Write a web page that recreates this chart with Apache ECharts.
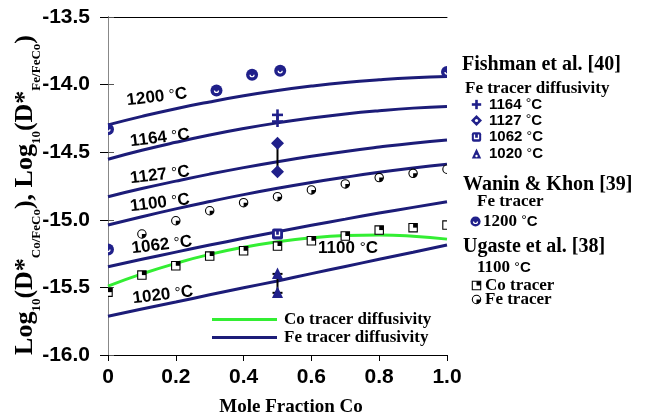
<!DOCTYPE html>
<html><head><meta charset="utf-8">
<script src="https://cdn.jsdelivr.net/npm/echarts@6/dist/echarts.min.js"></script>
<style>html,body{margin:0;padding:0;background:#fff}#c{width:646px;height:417px}</style>
</head><body><div id="c"></div>
<script>
// ---------------- data ----------------
const xGrid = [0, 0.1, 0.2, 0.3, 0.4, 0.5, 0.6, 0.7, 0.8, 0.9, 1.0];
const fe1200 = [-14.298, -14.235, -14.178, -14.128, -14.083, -14.044, -14.011, -13.984, -13.964, -13.949, -13.940];
const fe1164 = [-14.552, -14.486, -14.427, -14.373, -14.325, -14.283, -14.247, -14.217, -14.193, -14.174, -14.162];
const fe1127 = [-14.829, -14.769, -14.714, -14.662, -14.614, -14.570, -14.530, -14.494, -14.462, -14.433, -14.409];
const fe1100 = [-15.039, -14.977, -14.919, -14.865, -14.814, -14.767, -14.724, -14.685, -14.649, -14.617, -14.589];
const fe1062 = [-15.347, -15.292, -15.239, -15.187, -15.137, -15.088, -15.041, -14.995, -14.950, -14.908, -14.866];
const fe1020 = [-15.713, -15.660, -15.608, -15.555, -15.503, -15.452, -15.398, -15.345, -15.292, -15.240, -15.187];
const co1100 = [-15.490, -15.400, -15.322, -15.256, -15.203, -15.162, -15.133, -15.117, -15.113, -15.122, -15.143];

const waninX = [0, 0.32, 0.425, 0.508, 1.0, 0];
const waninY = [-14.33, -14.043, -13.927, -13.898, -13.907, -15.22];

const fishX = 0.5;
const fish1164 = [-14.224, -14.273];
const fish1127 = [-14.433, -14.644];
const fish1062 = [-15.105];
const fish1020 = [-15.40, -15.54];

const ugasteX = [0, 0.1, 0.2, 0.3, 0.4, 0.5, 0.6, 0.7, 0.8, 0.9, 1.0];
const ugasteCo = [-15.535, -15.409, -15.340, -15.268, -15.229, -15.194, -15.155, -15.120, -15.076, -15.058, -15.039];
const ugasteFe = [null, -15.105, -15.007, -14.933, -14.873, -14.829, -14.779, -14.735, -14.688, -14.656, -14.626];

const yTicks = [-16.0, -15.5, -15.0, -14.5, -14.0, -13.5];
const xTicks = [0, 0.2, 0.4, 0.6, 0.8, 1.0];
const curveLabels = ['1200', '1164', '1127', '1100', '1062', '1020'];

// ---------------- styles ----------------
const NAVY = '#1c1c78';
const MNAVY = '#20208a';
const GREEN = '#33ee33';
const SANS = '"Liberation Sans", Arial, Helvetica, sans-serif';
const SERIF = '"Liberation Serif", "Times New Roman", serif';

function markerShapes(kind, cx, cy, legend) {
  const k = legend ? 0.85 : 1;
  switch (kind) {
    case 'plus': {
      const s = 11 * k, t = 2.6;
      return [
        {type: 'rect', shape: {x: cx - s / 2, y: cy - t / 2, width: s, height: t}, style: {fill: MNAVY}},
        {type: 'rect', shape: {x: cx - t / 2, y: cy - s / 2, width: t, height: s}, style: {fill: MNAVY}}
      ];
    }
    case 'diamond': {
      const r = 6.5 * k;
      const arr = [{type: 'polygon', shape: {points: [[cx, cy - r], [cx + r, cy], [cx, cy + r], [cx - r, cy]]}, style: {fill: MNAVY}}];
      if (legend) arr.push({type: 'circle', shape: {cx: cx, cy: cy, r: 1.6}, style: {fill: '#fff'}});
      return arr;
    }
    case 'square': {
      const h = 5.5 * k;
      return [
        {type: 'rect', shape: {x: cx - h, y: cy - h, width: 2 * h, height: 2 * h, r: 2}, style: {fill: MNAVY}},
        {type: 'polyline', shape: {points: [[cx - 2, cy - 2.5], [cx - 2, cy + 1.5], [cx + 2, cy + 1.5], [cx + 2, cy - 2.5]]}, style: {stroke: '#fff', lineWidth: 1.3, fill: null}}
      ];
    }
    case 'triangle': {
      const a = 6.5 * k;
      const arr = [{type: 'polygon', shape: {points: [[cx, cy - a], [cx + a * 0.85, cy + a * 0.8], [cx - a * 0.85, cy + a * 0.8]]}, style: {fill: MNAVY}}];
      if (legend) arr.push({type: 'circle', shape: {cx: cx, cy: cy + 2, r: 1.2}, style: {fill: '#fff'}});
      return arr;
    }
    case 'wanin': {
      const r = 6 * k;
      return [
        {type: 'circle', shape: {cx: cx, cy: cy, r: r}, style: {fill: MNAVY}},
        {type: 'arc', shape: {cx: cx, cy: cy, r: 2, startAngle: 0, endAngle: Math.PI}, style: {stroke: '#fff', lineWidth: 1.2, fill: null}}
      ];
    }
    case 'ugCo': {
      const h = 4.2;
      return [
        {type: 'rect', shape: {x: cx - h, y: cy - h, width: 2 * h, height: 2 * h}, style: {fill: '#fff', stroke: '#000', lineWidth: 1.1}},
        {type: 'rect', shape: {x: cx, y: cy - h, width: h, height: h}, style: {fill: '#000'}}
      ];
    }
    case 'ugFe': {
      const r = 4.2;
      return [
        {type: 'circle', shape: {cx: cx, cy: cy, r: r}, style: {fill: '#fff', stroke: '#000', lineWidth: 1.1}},
        {type: 'sector', shape: {cx: cx, cy: cy, r0: 0, r: r, startAngle: 0, endAngle: Math.PI / 2}, style: {fill: '#000'}}
      ];
    }
  }
  return [];
}

function markerSeries(kind, data) {
  return {
    type: 'custom', clip: true, silent: true, z: 5,
    data: data,
    encode: {x: 0, y: 1},
    renderItem: function (params, api) {
      const p = api.coord([api.value(0), api.value(1)]);
      return {type: 'group', children: markerShapes(kind, p[0], p[1], false)};
    }
  };
}

function lineSeries(name, ys, color) {
  return {
    name: name, type: 'line', smooth: true, symbol: 'none', z: 3,
    data: xGrid.map((x, i) => [x, ys[i]]),
    lineStyle: {color: color, width: 3},
    itemStyle: {color: color}
  };
}

const errorBars = [[fishX, fish1127[1], fish1127[0]], [fishX, fish1020[1], fish1020[0]]];

const degRich = {
  n: {fontFamily: SANS, fontWeight: 'bold', fontSize: 17, color: '#000'},
  d: {fontFamily: SANS, fontWeight: 'normal', fontSize: 15, color: '#000'}
};

const labelPos = [[157, 97], [160, 138], [160, 175], [160, 203], [162, 245], [163, 295]];

const graphics = [];
curveLabels.forEach((t, i) => {
  graphics.push({
    type: 'text', x: labelPos[i][0], y: labelPos[i][1], rotation: 0.12, z: 10,
    style: {text: '{n|' + t + ' }{d|°}{n|C}', rich: degRich, align: 'center', verticalAlign: 'middle'}
  });
});
graphics.push({
  type: 'text', x: 348, y: 248, z: 10,
  style: {text: '{n|1100 }{d|°}{n|C}', align: 'center', verticalAlign: 'middle',
    rich: {n: {fontFamily: SANS, fontWeight: 'bold', fontSize: 17, color: '#2fb52f'}, d: {fontFamily: SANS, fontSize: 15, color: '#2fb52f'}}}
});
// y-axis title
graphics.push({
  type: 'text', x: 28, y: 195, rotation: Math.PI / 2, z: 10,
  style: {
    text: '{m|Log}{s|10}{m|(D*}{s|Co/FeCo}{m|), Log}{s|10}{m|(D*}{s|Fe/FeCo}{m|)}',
    align: 'center', verticalAlign: 'middle',
    rich: {
      m: {fontFamily: SERIF, fontWeight: 'bold', fontSize: 26, color: '#000', lineHeight: 31, verticalAlign: 'top'},
      s: {fontFamily: SERIF, fontWeight: 'bold', fontSize: 13, color: '#000', lineHeight: 13, verticalAlign: 'bottom'}
    }
  }
});
// x-axis title
graphics.push({
  type: 'text', x: 291, y: 407, z: 10,
  style: {text: 'Mole Fraction Co', fontFamily: SERIF, fontWeight: 'bold', fontSize: 19, fill: '#000', align: 'center', verticalAlign: 'middle'}
});

// right-hand legend
function txt(x, y, text, size, rich) {
  const o = {type: 'text', x: x, y: y, z: 10, style: {text: text, align: 'left', verticalAlign: 'middle'}};
  if (rich) o.style.rich = rich; else Object.assign(o.style, {fontFamily: SERIF, fontWeight: 'bold', fontSize: size, fill: '#000'});
  return o;
}
const legRich = {
  n: {fontFamily: SANS, fontWeight: 'bold', fontSize: 15, color: '#000'},
  d: {fontFamily: SANS, fontWeight: 'normal', fontSize: 14, color: '#000'},
  t: {fontFamily: SERIF, fontWeight: 'bold', fontSize: 17, color: '#000'}
};
graphics.push(txt(462, 65, 'Fishman et al. [40]', 20));
graphics.push(txt(465, 89, 'Fe tracer diffusivity', 17));
[['plus', '1164', 104.5], ['diamond', '1127', 120.5], ['square', '1062', 137], ['triangle', '1020', 154]].forEach(r => {
  graphics.push({type: 'group', children: markerShapes(r[0], 476.5, r[2], true)});
  graphics.push(txt(489, r[2], '{n|' + r[1] + ' }{d|°}{n|C}', 0, legRich));
});
graphics.push(txt(463, 185, 'Wanin & Khon [39]', 20));
graphics.push(txt(477, 202, 'Fe tracer', 17));
graphics.push({type: 'group', children: markerShapes('wanin', 475.5, 221.5, true)});
graphics.push(txt(483, 221.5, '{t|1200 }{d|°}{n|C}', 0, legRich));
graphics.push(txt(463, 247, 'Ugaste et al. [38]', 20));
graphics.push(txt(477, 268, '{t|1100 }{d|°}{n|C}', 0, legRich));
graphics.push({type: 'group', children: markerShapes('ugCo', 476.5, 285.5, true)});
graphics.push(txt(485, 285.5, 'Co tracer', 17));
graphics.push({type: 'group', children: markerShapes('ugFe', 476.5, 299.5, true)});
graphics.push(txt(485, 299.5, 'Fe tracer', 17));

const option = {
  animation: false,
  backgroundColor: '#fff',
  grid: {left: 108, right: 199, top: 17, bottom: 62, containLabel: false},
  xAxis: [{
    type: 'value', min: 0, max: 1, interval: 0.2, position: 'bottom',
    axisLine: {lineStyle: {color: '#000', width: 1}},
    axisTick: {show: true, inside: false, length: 6, lineStyle: {color: '#000'}},
    splitLine: {show: false},
    axisLabel: {margin: 12, fontFamily: SANS, fontWeight: 'bold', fontSize: 21, color: '#000',
      formatter: v => (v === 0 ? '0' : v.toFixed(1))}
  }, {
    type: 'value', min: 0, max: 1, interval: 0.2, position: 'top',
    axisLine: {show: true, lineStyle: {color: '#000', width: 1}},
    axisTick: {show: false}, axisLabel: {show: false}, splitLine: {show: false}
  }],
  yAxis: [{
    type: 'value', min: -16, max: -13.5, interval: 0.5, position: 'left',
    axisLine: {show: true, lineStyle: {color: '#000', width: 1}},
    axisTick: {show: true, inside: false, length: 8, lineStyle: {color: '#000'}},
    splitLine: {show: false},
    axisLabel: {margin: 18, fontFamily: SANS, fontWeight: 'bold', fontSize: 21, color: '#000',
      formatter: v => v.toFixed(1)}
  }, {
    type: 'value', min: -16, max: -13.5, interval: 0.5, position: 'right',
    axisLine: {show: true, lineStyle: {color: '#888', width: 1}},
    axisTick: {show: true, inside: false, length: 6, lineStyle: {color: '#555'}},
    axisLabel: {show: false}, splitLine: {show: false}
  }],
  legend: {
    show: true, orient: 'vertical', left: 212, top: 311, padding: 0, itemWidth: 65, itemHeight: 3, itemGap: 1,
    icon: 'rect', selectedMode: false,
    data: ['Co tracer diffusivity', 'Fe tracer diffusivity'],
    textStyle: {fontFamily: SERIF, fontWeight: 'bold', fontSize: 17, color: '#000', padding: [0, 0, 0, 2]}
  },
  series: [
    lineSeries('Fe tracer diffusivity', fe1200, NAVY),
    lineSeries('Fe tracer diffusivity', fe1164, NAVY),
    lineSeries('Fe tracer diffusivity', fe1127, NAVY),
    lineSeries('Fe tracer diffusivity', fe1100, NAVY),
    lineSeries('Fe tracer diffusivity', fe1062, NAVY),
    lineSeries('Fe tracer diffusivity', fe1020, NAVY),
    lineSeries('Co tracer diffusivity', co1100, GREEN),
    {
      type: 'custom', clip: true, silent: true, z: 4,
      data: errorBars, encode: {x: 0, y: [1, 2]},
      renderItem: function (params, api) {
        const lo = api.coord([api.value(0), api.value(1)]);
        const hi = api.coord([api.value(0), api.value(2)]);
        const st = {stroke: '#000', lineWidth: 2};
        return {type: 'group', children: [
          {type: 'line', shape: {x1: lo[0], y1: lo[1], x2: hi[0], y2: hi[1]}, style: st},
          {type: 'line', shape: {x1: lo[0] - 5, y1: lo[1], x2: lo[0] + 5, y2: lo[1]}, style: st},
          {type: 'line', shape: {x1: hi[0] - 5, y1: hi[1], x2: hi[0] + 5, y2: hi[1]}, style: st}
        ]};
      }
    },
    markerSeries('wanin', waninX.map((x, i) => [x, waninY[i]])),
    markerSeries('plus', fish1164.map(v => [fishX, v])),
    markerSeries('diamond', fish1127.map(v => [fishX, v])),
    markerSeries('square', fish1062.map(v => [fishX, v])),
    markerSeries('triangle', fish1020.map(v => [fishX, v])),
    markerSeries('ugCo', ugasteX.map((x, i) => [x, ugasteCo[i]])),
    markerSeries('ugFe', ugasteX.map((x, i) => [x, ugasteFe[i]]).filter(d => d[1] !== null))
  ],
  graphic: graphics
};

const chart = echarts.init(document.getElementById('c'), null, {renderer: 'canvas'});
chart.setOption(option);
</script>
</body></html>
